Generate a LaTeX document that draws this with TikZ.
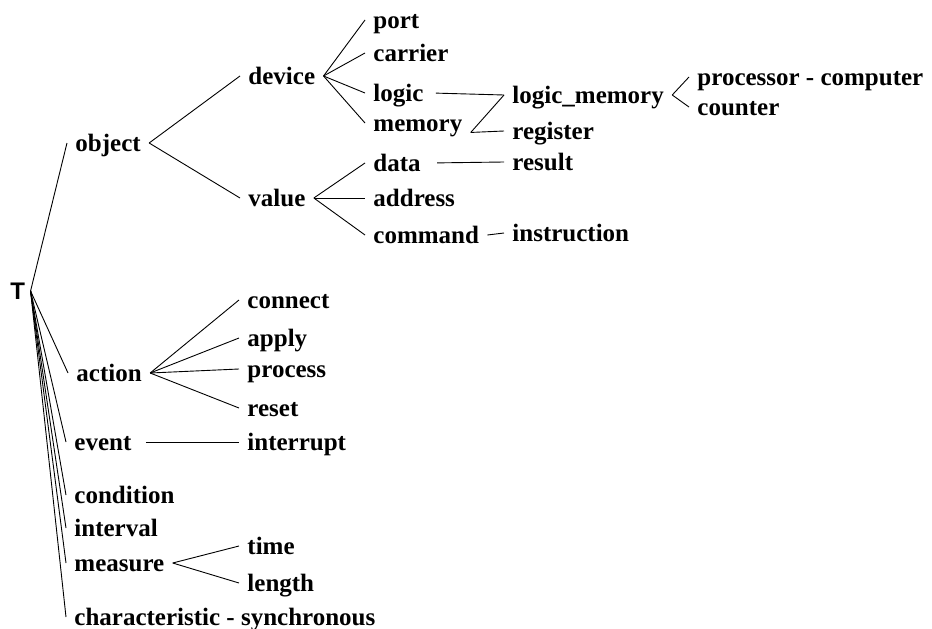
\documentclass[tikz,border=0pt]{standalone}
\usepackage{fontspec}
\setmainfont{Liberation Serif}
\newfontfamily\rootfont{Liberation Sans}
\usepackage{tikz}

\begin{document}
\begin{tikzpicture}[-,line width=0.9pt,x=1pt,y=-1pt]
    \tikzstyle{lbl}=[anchor=west, inner xsep=8pt, inner ysep=1pt, text height=16pt, text depth=0pt, font=\fontsize{25}{29}\selectfont\bfseries, text=black]
    \tikzstyle{rootlbl}=[lbl, inner xsep=5pt, font=\fontsize{24}{28}\selectfont\rootfont\bfseries]
    \useasboundingbox (0,0) rectangle (932,629);

    \node[rootlbl] (T)       at (5,291)   {T};
    \node[lbl]     (obj)     at (67,143)  {object};
    \node[lbl]     (dev)     at (240,76)  {device};
    \node[lbl]     (val)     at (240,198) {value};
    \node[lbl]     (port)    at (365,20)  {port};
    \node[lbl]     (carr)    at (365,53)  {carrier};
    \node[lbl]     (logic)   at (365,93)  {logic};
    \node[lbl]     (mem)     at (365,123) {memory};
    \node[lbl]     (data)    at (365,163) {data};
    \node[lbl]     (addr)    at (365,198) {address};
    \node[lbl]     (cmd)     at (365,235) {command};
    \node[lbl]     (logmem)  at (504,95)  {logic\_memory};
    \node[lbl]     (reg)     at (504,131) {register};
    \node[lbl]     (res)     at (504,162) {result};
    \node[lbl]     (instr)   at (504,233) {instruction};
    \node[lbl]     (proc)    at (689,77)  {processor - computer};
    \node[lbl]     (count)   at (689,107) {counter};
    \node[lbl]     (act)     at (68,373)  {action};
    \node[lbl]     (conn)    at (239,300) {connect};
    \node[lbl]     (apply)   at (239,338) {apply};
    \node[lbl]     (procs)   at (239,369) {process};
    \node[lbl]     (reset)   at (239,408) {reset};
    \node[lbl]     (evt)     at (66,442)  {event};
    \node[lbl]     (intr)    at (239,442) {interrupt};
    \node[lbl]     (cond)    at (66,495)  {condition};
    \node[lbl]     (intv)    at (66,528)  {interval};
    \node[lbl]     (meas)    at (66,563)  {measure};
    \node[lbl]     (time)    at (239,546) {time};
    \node[lbl]     (len)     at (239,583) {length};
    \node[lbl]     (char)    at (66,617)  {characteristic - synchronous};

    \path
     (T.east) edge (obj.west)
     (T.east) edge (act.west)
     (T.east) edge (evt.west)
     (T.east) edge (cond.west)
     (T.east) edge (intv.west)
     (T.east) edge (meas.west)
     (T.east) edge (char.west)
     (obj.east) edge (dev.west)
     (obj.east) edge (val.west)
     (dev.east) edge (port.west)
     (dev.east) edge (carr.west)
     (dev.east) edge (logic.west)
     (dev.east) edge (mem.west)
     (logic.east) edge[shorten <=4pt] (logmem.west)
     (mem.south east) edge (logmem.west)
     (mem.south east) edge (reg.west)
     (logmem.east) edge (proc.west)
     (logmem.east) edge (count.west)
     (val.east) edge (data.west)
     (val.east) edge (addr.west)
     (val.east) edge (cmd.west)
     (data.east) edge[shorten <=8pt] (res.west)
     (cmd.east) edge (instr.west)
     (act.east) edge (conn.west)
     (act.east) edge (apply.west)
     (act.east) edge (procs.west)
     (act.east) edge (reset.west)
     (evt.east) edge[shorten <=6pt] (intr.west)
     (meas.east) edge (time.west)
     (meas.east) edge (len.west)
     ;
\end{tikzpicture}
\end{document}
